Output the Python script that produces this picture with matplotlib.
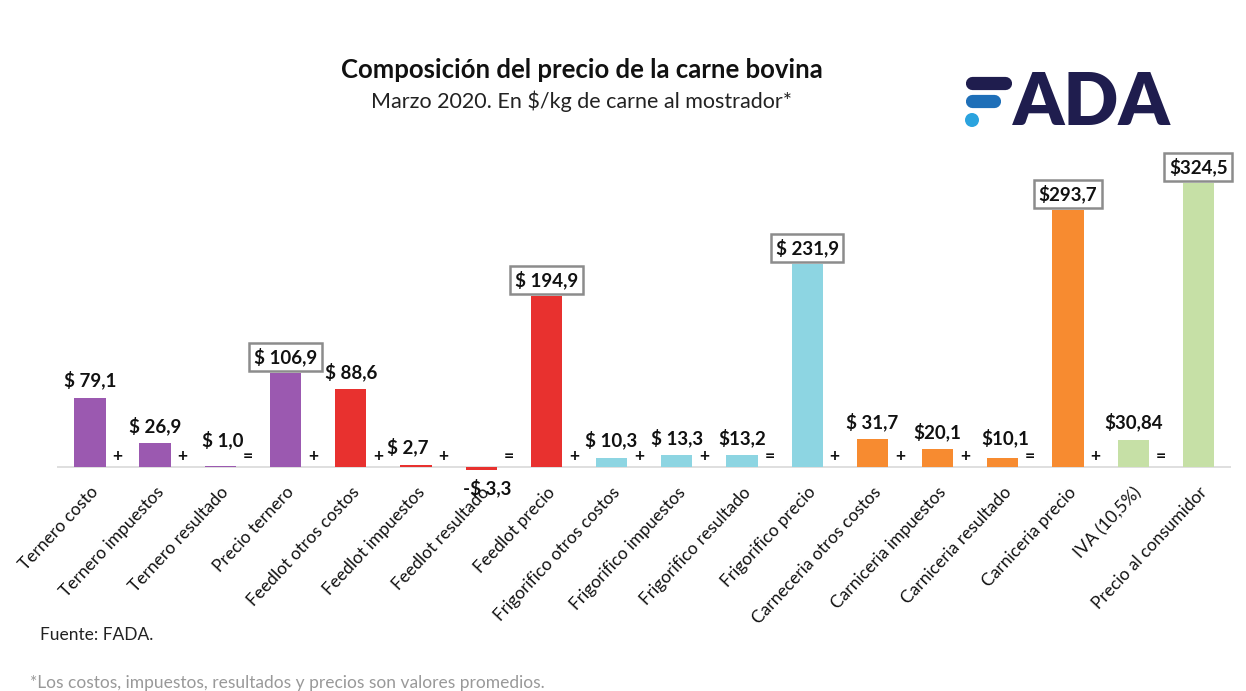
import numpy as np
import matplotlib.pyplot as plt
from matplotlib.lines import Line2D
from matplotlib.patches import Ellipse

plt.rcParams['font.family'] = ['Lato', 'DejaVu Sans']

categories = ['Ternero costo', 'Ternero impuestos', 'Ternero resultado', 'Precio ternero',
              'Feedlot otros costos', 'Feedlot impuestos', 'Feedlot resultado', 'Feedlot precio',
              'Frigorifico otros costos', 'Frigorifico impuestos', 'Frigorifico resultado',
              'Frigorifico precio', 'Carneceria otros costos', 'Carniceria impuestos',
              'Carniceria resultado', 'Carniceria precio', 'IVA (10,5%)', 'Precio al consumidor']
values = [79.1, 26.9, 1.0, 106.9, 88.6, 2.7, -3.3, 194.9, 10.3, 13.3, 13.2, 231.9,
          31.7, 20.1, 10.1, 293.7, 30.84, 324.5]
value_labels = ['$ 79,1', '$ 26,9', '$ 1,0', '$ 106,9', '$ 88,6', '$ 2,7', '-$ 3,3', '$ 194,9',
                '$ 10,3', '$ 13,3', '$13,2', '$ 231,9', '$ 31,7', '$20,1', '$10,1', '$293,7',
                '$30,84', '$324,5']
stage = ['ternero'] * 4 + ['feedlot'] * 4 + ['frigorifico'] * 4 + ['carniceria'] * 4 + ['consumidor'] * 2
totals = [3, 7, 11, 15, 17]
operators = ['+', '+', '=', '+', '+', '+', '=', '+', '+', '+', '=', '+', '+', '+', '=', '+', '=']

colors = {'ternero': '#9B59B0', 'feedlot': '#E8312F', 'frigorifico': '#8DD5E2',
          'carniceria': '#F78B30', 'consumidor': '#C6E0A6'}

W, H = 1246, 691
fig = plt.figure(figsize=(W / 100, H / 100), dpi=100)
ax = fig.add_axes([0.046, 0.3115, 0.942, 0.4432])

x = np.arange(len(categories))
ax.bar(x, values, width=0.48, color=[colors[s] for s in stage], zorder=2)
ax.axhline(0, color='#D9D9D9', lw=1.2, zorder=1)
ax.set_xlim(-0.5, len(categories) - 0.5)
ax.set_ylim(-10, 340)

# small nudges for crowded labels (points)
nudge = {2: (2, 12), 5: (-6, 6), 14: (2, 8)}

for i, (v, lab) in enumerate(zip(values, value_labels)):
    if i in totals:
        ax.annotate(lab, (i, v), xytext=(0, 5), textcoords='offset points', ha='center',
                    va='bottom', fontsize=13.5, fontweight='bold', color='#111111',
                    bbox=dict(boxstyle='square,pad=0.25', fc='white', ec='#8C8C8C', lw=1.8),
                    zorder=4)
    elif v < 0:
        ax.annotate(lab, (i, v), xytext=(4, -6), textcoords='offset points', ha='center',
                    va='top', fontsize=13.5, fontweight='bold', color='#111111', zorder=4)
    else:
        ax.annotate(lab, (i, v), xytext=nudge.get(i, (0, 6)), textcoords='offset points',
                    ha='center', va='bottom', fontsize=13.5, fontweight='bold',
                    color='#111111', zorder=4)

# + / = signs between bars
for i, op in enumerate(operators):
    ax.text(i + 0.42, 13, op, ha='center', va='center', fontsize=12.5, fontweight='bold',
            color='#111111')

ax.set_xticks(x)
ax.set_xticklabels(categories, rotation=47, ha='right', rotation_mode='anchor',
                   fontsize=12.5, color='#111111')
ax.tick_params(axis='x', length=0, pad=6)
ax.set_yticks([])
for sp in ax.spines.values():
    sp.set_visible(False)

fig.text(0.467, 0.898, 'Composición del precio de la carne bovina', ha='center', va='center',
         fontsize=18.5, fontweight='bold', color='#111111')
fig.text(0.467, 0.853, 'Marzo 2020. En $/kg de carne al mostrador*', ha='center', va='center',
         fontsize=15.5, color='#222222')

# FADA logo
navy = '#1F1D4E'
fig.add_artist(Line2D([972 / W, 1005 / W], [1 - 83 / H, 1 - 83 / H], transform=fig.transFigure,
                      color=navy, lw=9.5, solid_capstyle='round'))
fig.add_artist(Line2D([972 / W, 994 / W], [1 - 101 / H, 1 - 101 / H], transform=fig.transFigure,
                      color='#1E6FB8', lw=9.5, solid_capstyle='round'))
fig.add_artist(Ellipse((972 / W, 1 - 120 / H), 14 / W, 14 / H, transform=fig.transFigure,
                       fc='#2BA3DE', ec='none'))
fig.text(1013 / W, 1 - 104 / H, 'ADA', ha='left', va='center', fontsize=52,
         fontweight='heavy', color=navy)

fig.text(0.032, 0.081, 'Fuente: FADA.', ha='left', va='center', fontsize=12.5, color='#222222')
fig.text(0.024, 0.012, '*Los costos, impuestos, resultados y precios son valores promedios.',
         ha='left', va='center', fontsize=12.5, color='#999999')

fig.savefig('out.png', dpi=100)
